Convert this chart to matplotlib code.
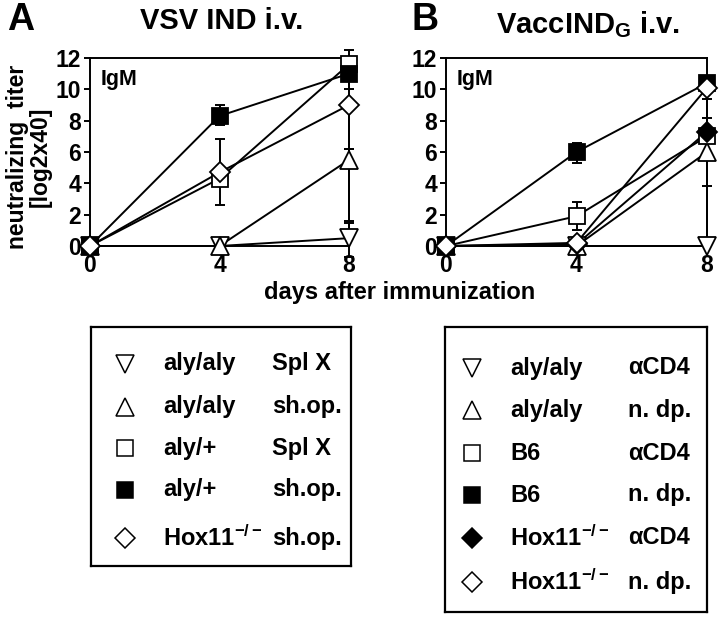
import numpy as np
import matplotlib
matplotlib.use('Agg')
import matplotlib.pyplot as plt

plt.rcParams['font.family'] = ['Liberation Sans', 'DejaVu Sans']
plt.rcParams['font.weight'] = 'bold'
plt.rcParams['mathtext.fontset'] = 'custom'
plt.rcParams['mathtext.rm'] = 'Liberation Sans:bold'
plt.rcParams['mathtext.bf'] = 'Liberation Sans:bold'
plt.rcParams['mathtext.default'] = 'bf'

days = [0, 4, 8]

# panel A: VSV IND i.v. (values, lower err, upper err)
a_names = ['aly/aly', 'aly/aly', 'aly/+', 'aly/+', 'Hox11$^{-/-}$']
a_treat = ['Spl X', 'sh.op.', 'Spl X', 'sh.op.', 'sh.op.']
a_marker = ['v', '^', 's', 's', 'D']
a_fill = ['white', 'white', 'white', 'black', 'white']
a_vals = [[0, 0, 0.5], [0, 0, 5.5], [0, 4.3, 11.6], [0, 8.3, 11.0], [0, 4.7, 9.0]]
a_err_lo = [[0, 0, 1.2], [0, 0, 4.0], [0, 0, 0], [0, 0.6, 1.0], [0, 2.1, 2.8]]
a_err_hi = [[0, 0, 1.1], [0, 0, 0.7], [0, 0, 0.9], [0, 0.7, 0], [0, 2.1, 0]]

# panel B: VaccIND_G i.v.
b_names = ['aly/aly', 'aly/aly', 'B6', 'B6', 'Hox11$^{-/-}$', 'Hox11$^{-/-}$']
b_treat = ['αCD4', 'n. dp.', 'αCD4', 'n. dp.', 'αCD4', 'n. dp.']
b_marker = ['v', '^', 's', 's', 'D', 'D']
b_fill = ['white', 'white', 'white', 'black', 'black', 'white']
b_vals = [[0, 0, 0], [0, 0, 6.0], [0, 1.9, 7.0], [0, 6.0, 10.4], [0, 0.1, 7.3], [0, 0.2, 10.1]]
b_err_lo = [[0, 0, 0], [0, 0, 2.2], [0, 0.9, 0], [0, 0.7, 0], [0, 0, 0], [0, 0, 10.0]]
b_err_hi = [[0, 0, 0], [0, 0, 2.2], [0, 0.9, 0], [0, 0.6, 0], [0, 0, 2.1], [0, 0, 0]]

yticks = [0, 2, 4, 6, 8, 10, 12]
msize = {'v': 12.5, '^': 12.5, 's': 11.5, 'D': 10}

W, H = 720, 617
fig = plt.figure(figsize=(W / 100, H / 100), dpi=100)


def px_axes(x0, y0, x1, y1):
    return fig.add_axes([x0 / W, 1 - y1 / H, (x1 - x0) / W, (y1 - y0) / H])


def draw_panel(ax, vals, lo, hi, markers, fills):
    for v, l, h, m, f in zip(vals, lo, hi, markers, fills):
        ax.errorbar(days, v, yerr=[l, h], fmt='none', ecolor='black',
                    elinewidth=1.4, capsize=3.5, capthick=1.4, clip_on=False, zorder=2)
        ax.plot(days, v, color='black', lw=1.4, clip_on=False, zorder=3)
    for v, m, f in zip(vals, markers, fills):
        ax.plot(days, v, ls='none', marker=m, ms=msize[m], mfc=f, mec='black',
                mew=1.3, clip_on=False, zorder=4)
    ax.set_xlim(0, 8)
    ax.set_ylim(0, 12)
    ax.set_xticks(days)
    ax.set_yticks(yticks)
    ax.tick_params(axis='x', length=0, pad=6, labelsize=16.5)
    ax.tick_params(axis='y', direction='out', length=4, width=1.4, pad=2.5, labelsize=16.5)
    for sp in ax.spines.values():
        sp.set_linewidth(1.4)
    ax.text(0.04, 0.94, 'IgM', transform=ax.transAxes, fontsize=15.5,
            fontweight='bold', ha='left', va='top')


axA = px_axes(90, 58, 349, 246)
draw_panel(axA, a_vals, a_err_lo, a_err_hi, a_marker, a_fill)
axB = px_axes(446, 58, 707, 246)
draw_panel(axB, b_vals, b_err_lo, b_err_hi, b_marker, b_fill)

fig.text(7 / W, 1 - 20 / H, 'A', fontsize=27, fontweight='bold', ha='left', va='center')
fig.text(222 / W, 1 - 21 / H, 'VSV IND i.v.', fontsize=21, fontweight='bold', ha='center', va='center')
fig.text(412 / W, 1 - 20 / H, 'B', fontsize=27, fontweight='bold', ha='left', va='center')
fig.text(588 / W, 1 - 25 / H, r'VaccIND$_{\mathbf{G}}$ i.v.', fontsize=21, fontweight='bold',
         ha='center', va='center')

fig.text(29 / W, 1 - 157 / H, 'neutralizing  titer\n[log2x40]', rotation=90, fontsize=16.5,
         fontweight='bold', ha='center', va='center', multialignment='center', linespacing=1.0)
fig.text(400 / W, 1 - 292 / H, 'days after immunization', fontsize=17, fontweight='bold',
         ha='center', va='center')


def draw_legend(ax, names, treats, markers, fills, rows, xs):
    ax.set_xlim(0, 1)
    ax.set_ylim(0, 1)
    ax.set_xticks([])
    ax.set_yticks([])
    for sp in ax.spines.values():
        sp.set_linewidth(1.6)
    for n, t, m, f, r in zip(names, treats, markers, fills, rows):
        ax.plot(xs[0], r, ls='none', marker=m, ms=msize[m], mfc=f, mec='black', mew=1.1)
        ax.text(xs[1], r, n, fontsize=17, fontweight='bold', ha='left', va='center')
        ax.text(xs[2], r, t, fontsize=17, fontweight='bold', ha='left', va='center')


legA = px_axes(91, 327, 351, 566)
rowsA = [1 - (y - 327) / 239 for y in [364, 407, 448, 490, 538]]
draw_legend(legA, a_names, a_treat, a_marker, a_fill, rowsA, [0.13, 0.277, 0.696])

legB = px_axes(445, 327, 707, 612)
rowsB = [1 - (y - 327) / 285 for y in [368, 410, 453, 495, 538, 582]]
draw_legend(legB, b_names, b_treat, b_marker, b_fill, rowsB, [0.103, 0.248, 0.698])

plt.savefig('out.png', dpi=100, facecolor='white')
